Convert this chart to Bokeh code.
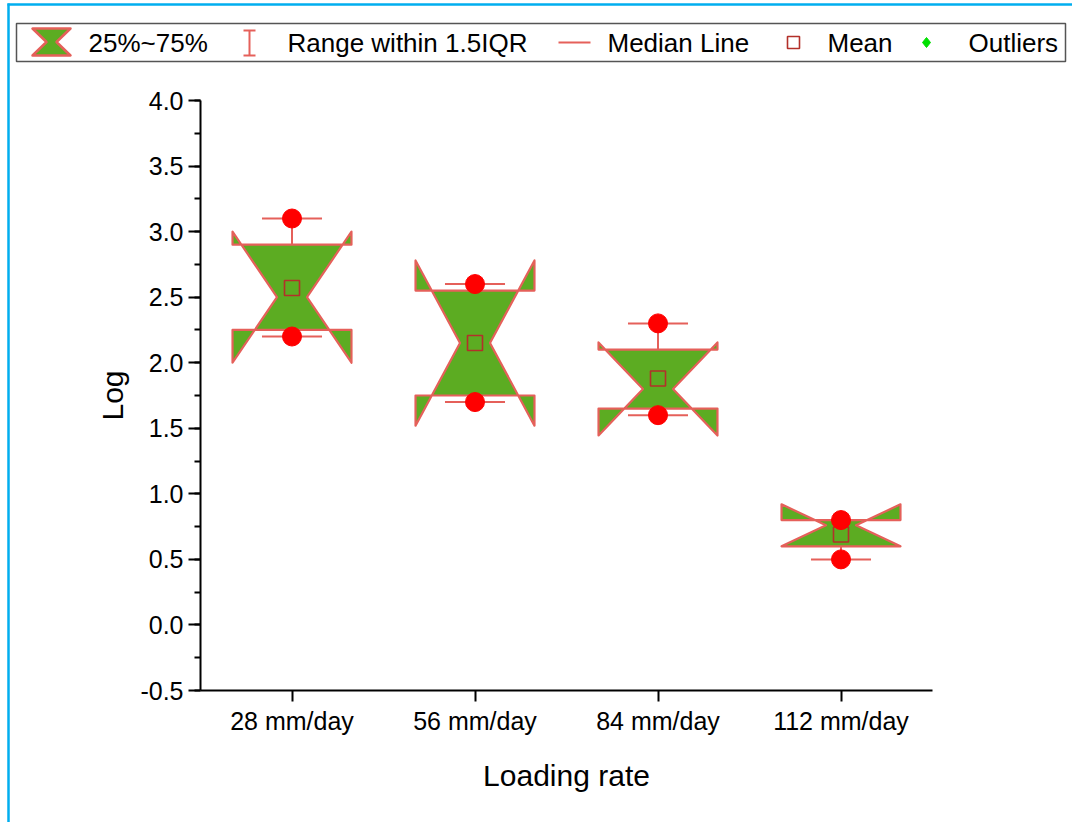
from bokeh.plotting import figure
from bokeh.models import (ColumnDataSource, Range1d, FixedTicker, SingleIntervalTicker,
                          NumeralTickFormatter)
from bokeh.core.properties import value
from bokeh.embed import file_html
from bokeh.resources import INLINE

# ---------------- data ----------------
categories = ["28 mm/day", "56 mm/day", "84 mm/day", "112 mm/day"]
q1 = [2.25, 1.75, 1.65, 0.60]
q3 = [2.90, 2.55, 2.10, 0.80]
median = [2.50, 2.15, 1.80, 0.76]
notch_lo = [2.00, 1.52, 1.445, 0.60]
notch_hi = [3.00, 2.78, 2.155, 0.92]
whisker_lo = [2.20, 1.70, 1.60, 0.50]
whisker_hi = [3.10, 2.60, 2.30, 0.80]
mean = [2.57, 2.15, 1.88, 0.69]
points_min = [2.20, 1.70, 1.60, 0.50]
points_max = [3.10, 2.60, 2.30, 0.80]

legend_labels = ["25%~75%", "Range within 1.5IQR", "Median Line", "Mean", "Outliers"]

# ---------------- styles ----------------
FONT = "Liberation Sans"
BOX_FILL = "#5CAC22"
EDGE = "#E5605A"
MEAN_COL = "#B3302A"
DOT = "#FF0000"
OUTLIER = "#00E000"
FRAME_BLUE = "#00AEEF"

W = 0.325      # box half width (x units)
NW = 0.082     # notch waist half width
CW = 0.164     # whisker cap half width

idx = list(range(len(categories)))

# frame geometry (pixels)
FL, FR, FT, FB = 200, 932, 100, 690
WIDTH, HEIGHT = 1072, 822

p = figure(width=WIDTH, height=HEIGHT, output_backend="svg", toolbar_location=None,
           x_range=Range1d(-0.5, 3.5), y_range=Range1d(-0.5, 4.0),
           min_border_left=FL, min_border_right=WIDTH - FR, min_border_top=FT,
           min_border_bottom=HEIGHT - FB)
p.outline_line_color = None
p.grid.visible = False
p.background_fill_color = "white"
p.border_fill_color = "white"

# pixel-space ranges for the legend strip / page frame (drawn outside the data frame)
p.extra_x_ranges = {"px": Range1d(FL, FR)}
p.extra_y_ranges = {"py": Range1d(FB, FT)}

# ---------------- boxes ----------------
box_xs, box_ys = [], []
for i in idx:
    box_xs.append([i - W, i + W, i + W, i + NW, i + W, i + W, i - W, i - W, i - NW, i - W])
    box_ys.append([q3[i], q3[i], notch_hi[i], median[i], notch_lo[i], q1[i], q1[i],
                   notch_lo[i], median[i], notch_hi[i]])
p.patches(xs=box_xs, ys=box_ys, fill_color=BOX_FILL, line_color=EDGE, line_width=2.2,
          line_join="round")

src = ColumnDataSource(dict(x=idx, q1=q1, q3=q3, wlo=whisker_lo, whi=whisker_hi,
                            xl=[i - CW for i in idx], xr=[i + CW for i in idx],
                            mean=mean, pmin=points_min, pmax=points_max))
p.segment(x0="x", y0="q3", x1="x", y1="whi", source=src, line_color=EDGE, line_width=2)
p.segment(x0="x", y0="q1", x1="x", y1="wlo", source=src, line_color=EDGE, line_width=2)
p.segment(x0="xl", y0="whi", x1="xr", y1="whi", source=src, line_color=EDGE, line_width=2)
p.segment(x0="xl", y0="wlo", x1="xr", y1="wlo", source=src, line_color=EDGE, line_width=2)
p.scatter(x="x", y="mean", source=src, marker="square", size=15, fill_color=None,
          line_color=MEAN_COL, line_width=1.6)
p.scatter(x="x", y="pmax", source=src, marker="circle", size=19, fill_color=DOT, line_color=DOT)
p.scatter(x="x", y="pmin", source=src, marker="circle", size=19, fill_color=DOT, line_color=DOT)

# ---------------- axes ----------------
p.xaxis.ticker = FixedTicker(ticks=idx, minor_ticks=[])
p.xaxis.major_label_overrides = {i: c for i, c in zip(idx, categories)}
p.yaxis.ticker = SingleIntervalTicker(interval=0.5, num_minor_ticks=2)
p.yaxis.formatter = NumeralTickFormatter(format="0.0")
p.xaxis.axis_label = "Loading rate"
p.yaxis.axis_label = "Log"
for ax in (p.xaxis, p.yaxis):
    ax.axis_line_color = "black"
    ax.axis_line_width = 2
    ax.major_tick_line_color = "black"
    ax.major_tick_line_width = 2
    ax.minor_tick_line_color = "black"
    ax.minor_tick_line_width = 2
    ax.major_tick_in = 0
    ax.minor_tick_in = 0
    ax.major_label_text_font = FONT
    ax.major_label_text_font_size = "25px"
    ax.major_label_text_color = "black"
    ax.axis_label_text_font = FONT
    ax.axis_label_text_font_size = "30px"
    ax.axis_label_text_font_style = "normal"
    ax.axis_label_text_color = "black"
p.xaxis.major_tick_out = 11
p.xaxis.minor_tick_line_color = None
p.xaxis.major_label_standoff = 5
p.xaxis.axis_label_standoff = 21
p.yaxis.major_tick_out = 12
p.yaxis.minor_tick_out = 6
p.yaxis.major_label_standoff = 5
p.yaxis.axis_label_standoff = 8

# ---------------- page frame and legend strip (pixel space, unclipped) ----------------
kw = dict(x_range_name="px", y_range_name="py", level="overlay")

# light-blue page border (left and top edges)
p.segment(x0=[8, 7], y0=[3, 4], x1=[8, WIDTH], y1=[HEIGHT, 4], line_color=FRAME_BLUE,
          line_width=2.5, **kw)

# legend frame
p.quad(left=[16], right=[1065], top=[23], bottom=[61], fill_color="white",
       line_color="#555555", line_width=1.5, **kw)
# box icon (hourglass)
p.patch(x=[32, 70, 56, 70, 32, 46], y=[28, 28, 41.5, 55, 55, 41.5],
        fill_color=BOX_FILL, line_color=EDGE, line_width=2.5, line_join="round", **kw)
# range icon
p.segment(x0=[249, 243, 243], y0=[30, 30, 55], x1=[249, 255, 255], y1=[55, 30, 55],
          line_color=EDGE, line_width=2, **kw)
# median icon
p.segment(x0=[558], y0=[42], x1=[590], y1=[42], line_color=EDGE, line_width=2, **kw)
# mean icon
p.quad(left=[787], right=[799], top=[36], bottom=[48], fill_color=None,
       line_color=MEAN_COL, line_width=1.6, **kw)
# outlier icon
p.patch(x=[926, 930, 926, 922], y=[37, 42, 47, 42], fill_color=OUTLIER,
        line_color=OUTLIER, line_width=1, **kw)
p.text(x=[88, 287, 607, 827, 968], y=[42] * 5, text=legend_labels,
       text_font=value(FONT), text_font_size=value("26px"), text_baseline="middle",
       text_align="left", text_color="black", **kw)

open("out.html", "w").write(file_html(p, INLINE))
